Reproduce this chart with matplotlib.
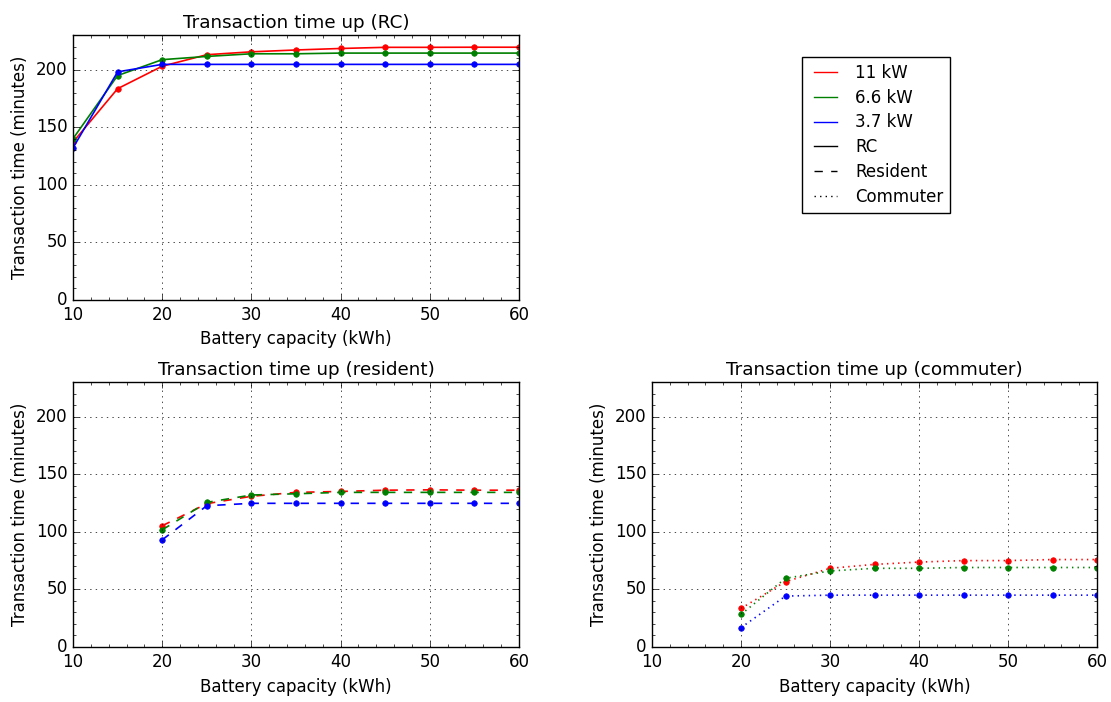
import numpy as np
import matplotlib
matplotlib.use('Agg')
import matplotlib.pyplot as plt
from matplotlib.lines import Line2D

plt.style.use('classic')

# battery capacities (kWh)
cap_rc = [10, 15, 20, 25, 30, 35, 40, 45, 50, 55, 60]
cap = [20, 25, 30, 35, 40, 45, 50, 55, 60]

# RC transaction time (minutes)
rc_11 = [137, 183.4, 202.9, 212.9, 215.4, 217, 218.3, 219.3, 219.3, 219.4, 219.4]
rc_66 = [140, 194.8, 208.6, 211.4, 213.7, 213.7, 214.3, 214.3, 214.3, 214.3, 214.3]
rc_37 = [132, 198, 204.5, 204.5, 204.5, 204.5, 204.5, 204.5, 204.5, 204.5, 204.5]

# resident
res_11 = [105.2, 124.4, 130.8, 134.2, 135, 136.1, 136.4, 136.1, 136.1]
res_66 = [101.7, 125.5, 131.9, 133, 134.2, 134.2, 134.2, 134.2, 134.2]
res_37 = [93, 122.6, 124.7, 124.7, 124.7, 124.7, 124.7, 124.7, 124.7]

# commuter
com_11 = [33.5, 56.7, 68.3, 71.7, 73.7, 75, 75, 75.9, 75.9]
com_66 = [28.3, 59.6, 66, 68.3, 68.3, 69, 69, 69, 69]
com_37 = [16.8, 44.2, 45, 45, 45, 45, 45, 45, 45]

colors = ['r', 'g', 'b']
labels = ['11 kW', '6.6 kW', '3.7 kW']

fig = plt.figure(figsize=(11.11, 7.02), dpi=100, facecolor='white')
W, H = 1111.0, 702.0


def make_ax(x0, y0, x1, y1):
    return fig.add_axes([x0 / W, 1 - y1 / H, (x1 - x0) / W, (y1 - y0) / H])


def draw(ax, x, series, ls, title):
    for ys, c in zip(series, colors):
        ax.plot(x, ys, color=c, linestyle=ls, linewidth=1.2, marker='o',
                markersize=4, markeredgecolor=c)
    ax.set_xlim(10, 60)
    ax.set_ylim(0, 230)
    ax.set_yticks([0, 50, 100, 150, 200])
    ax.minorticks_on()
    ax.grid(True)
    ax.set_title(title, fontsize=13.2)
    ax.set_xlabel('Battery capacity (kWh)')
    ax.set_ylabel('Transaction time (minutes)')


ax1 = make_ax(73, 35, 519, 300)
draw(ax1, cap_rc, [rc_11, rc_66, rc_37], '-', 'Transaction time up (RC)')
ax2 = make_ax(73, 382, 519, 647)
draw(ax2, cap, [res_11, res_66, res_37], '--', 'Transaction time up (resident)')
ax3 = make_ax(652, 382, 1097, 647)
draw(ax3, cap, [com_11, com_66, com_37], ':', 'Transaction time up (commuter)')

handles = [Line2D([], [], color=c) for c in colors]
handles += [Line2D([], [], color='k', linestyle=ls) for ls in ['-', '--', ':']]
fig.legend(handles, labels + ['RC', 'Resident', 'Commuter'],
           loc='upper left', bbox_to_anchor=(802 / W, 1 - 57 / H),
           borderaxespad=0, fontsize=12, labelspacing=0.41)

fig.savefig('out.png', dpi=100, facecolor='white')
